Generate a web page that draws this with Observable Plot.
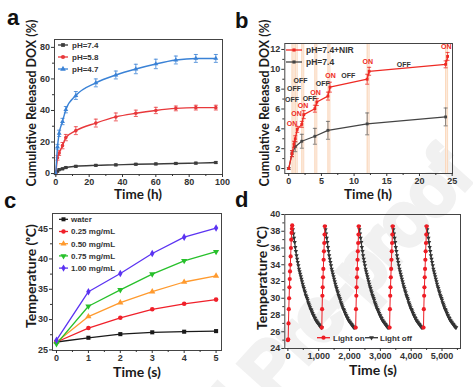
<!DOCTYPE html>
<html><head><meta charset="utf-8">
<script src="https://cdn.jsdelivr.net/npm/d3@7"></script>
<script src="https://cdn.jsdelivr.net/npm/@observablehq/plot@0.6"></script>
<style>
html,body{margin:0;padding:0;background:#fff;}
#fig{position:relative;width:473px;height:387px;overflow:hidden;background:#fff;}
.panel{position:absolute;overflow:hidden;}
</style></head><body><div id="fig"></div>
<script>
// ---------- Panel a: cumulative DOX release at different pH ----------
const timeA   = [0, 1, 2, 4, 6, 12, 24, 36, 48, 60, 72, 84, 96];
const dox74   = [0, 1.5, 2.5, 3.0, 3.8, 4.6, 5.2, 5.5, 5.9, 6.1, 6.4, 6.6, 7.0];
const dox74E  = [0, 0.4, 0.4, 0.5, 0.5, 0.5, 0.5, 0.5, 0.5, 0.5, 0.5, 0.5, 0.5];
const dox58   = [0, 10.0, 13.0, 17.7, 22.8, 27.2, 32.0, 35.9, 38.2, 40.0, 41.3, 41.8, 41.8];
const dox58E  = [0, 1.5, 1.5, 2, 2, 2.5, 2.5, 2.5, 2, 2, 1.5, 1.5, 1.5];
const dox47   = [0, 17.0, 25.5, 33.0, 40.5, 49.5, 57.5, 62.5, 66.3, 69.5, 72.0, 73.0, 73.0];
const dox47E  = [0, 1.5, 2, 2, 2, 2.5, 2.5, 2.5, 3, 3, 2.5, 2.5, 2.5];
const labelsA = ["pH=7.4", "pH=5.8", "pH=4.7"];

// ---------- Panel b: NIR on/off release ----------
const timeNIR = [0, 0.5, 0.8, 1, 1.3, 2, 2.3, 4, 4.3, 6, 6.3, 12, 12.3, 24, 24.3];
const doxNIR  = [0, 1.5, 2.45, 3.0, 3.95, 4.45, 5.43, 6.03, 6.7, 7.3, 8.2, 9.0, 9.8, 10.5, 11.3];
const doxNIRE = [0, 0.3, 0.3, 0.3, 0.3, 0.3, 0.4, 0.35, 0.35, 0.4, 0.5, 0.5, 0.4, 0.35, 0.4];
const timeDark = [0, 0.5, 1, 2, 4, 6, 12, 24];
const doxDark  = [0, 1.5, 2.2, 2.75, 3.25, 3.85, 4.5, 5.2];
const doxDarkE = [0.1, 0.3, 0.5, 0.7, 0.8, 0.9, 1.1, 0.9];
const nirStart = [0.5, 1, 2, 4, 6, 12, 24];
const nirEnd   = [0.8, 1.3, 2.3, 4.3, 6.3, 12.3, 24.3];
const onX  = [0.5, 1.2, 2.2, 4.1, 6.4, 12.1, 24.1];
const onY  = [4.5, 5.5, 6.3, 7.6, 9.3, 10.8, 12.3];
const offX = [0.5, 0.8, 1.8, 3.2, 5.2, 9.1, 17.6];
const offY = [6.9, 8.05, 8.8, 7.0, 8.55, 9.3, 10.5];
const labelsB = ["pH=7.4+NIR", "pH=7.4"];

// ---------- Panel c: photothermal heating ----------
const timeC = [0, 1, 2, 3, 4, 5];
const tWater = [26.3, 27.0, 27.6, 27.9, 28.0, 28.1];
const t025   = [26.3, 28.6, 30.3, 31.7, 32.6, 33.3];
const t050   = [26.3, 30.5, 32.8, 34.6, 36.2, 37.2];
const t075   = [26.0, 32.2, 34.9, 37.5, 39.7, 41.2];
const t100   = [26.6, 34.6, 37.6, 40.9, 43.6, 45.1];
const labelsC = ["water", "0.25 mg/mL", "0.50 mg/mL", "0.75 mg/mL", "1.00 mg/mL"];

// ---------- Panel d: on/off cycles ----------
const cycleStart = [0, 1100, 2200, 3300, 4400];
const heatStep = 10;   // s between heating readings
const coolStep = 20;   // s between cooling readings
const heatFirst = [25.0, 25.1, 27.0, 28.7, 30.0, 31.3, 32.3, 33.2, 34.0, 35.0, 36.0, 37.0, 37.8, 38.3, 38.7];
const heatOther = [26.5, 28.7, 30.3, 31.3, 32.5, 33.5, 34.6, 35.6, 36.6, 37.6, 38.6];
const cooling = [38.6, 38.2, 37.7, 37.2, 36.7, 36.1, 35.6, 35.1, 34.7, 34.3, 33.9, 33.5, 33.2, 32.9,
  32.6, 32.3, 32.0, 31.7, 31.4, 31.2, 30.9, 30.7, 30.4, 30.2, 30.0, 29.8, 29.5, 29.3, 29.1, 28.9,
  28.7, 28.6, 28.4, 28.2, 28.0, 27.9, 27.7, 27.6, 27.4, 27.3, 27.2, 27.1, 27.0, 26.9, 26.8, 26.7,
  26.6, 26.5, 26.5];
const labelsD = ["Light on", "Light off"];
const watermark = "Journal Pre-proof";

// ---------- styling helpers ----------
const TICKF = "'Liberation Sans', Arial, sans-serif";
const TITLEF = "Lato, 'Open Sans', sans-serif";
const fig = document.getElementById("fig");
const capSym = {draw(ctx, size) { const r = Math.sqrt(size / Math.PI); ctx.moveTo(-r, 0); ctx.lineTo(r, 0); }};

// faint watermark behind everything
{
  const wm = d3.create("svg").attr("width", 473).attr("height", 387)
    .style("position", "absolute").style("left", 0).style("top", 0);
  wm.append("text").attr("transform", "translate(474,178) rotate(-48)")
    .attr("text-anchor", "end").attr("font-family", TICKF).attr("font-size", 72)
    .attr("fill", "none").attr("stroke", "#f1f1f1").attr("stroke-width", 7).text(watermark);
  fig.appendChild(wm.node());
}

function place(svg, left, top, w, h) {
  const d = document.createElement("div");
  d.className = "panel";
  Object.assign(d.style, {left: left + "px", top: top + "px", width: w + "px", height: h + "px"});
  d.appendChild(svg); fig.appendChild(d);
}
function axes(xt, xm, yt, ym) {
  const t = {fontSize: 9, fontWeight: "bold", fontFamily: TICKF, label: null};
  return [
    Plot.axisX({...t, ticks: xt, tickSize: 3, tickPadding: 1.5, tickFormat: d => d}),
    Plot.axisX({ticks: xm, tickSize: 2, tickFormat: () => "", label: null}),
    Plot.axisY({...t, ticks: yt, tickSize: 3, tickPadding: 1.5, tickFormat: d => d}),
    Plot.axisY({ticks: ym, tickSize: 2, tickFormat: () => "", label: null})
  ];
}
function errMarks(data, color) {
  const d = data.filter(p => p.e > 0);
  return [
    Plot.ruleX(d, {x: "t", y1: p => p.v - p.e, y2: p => p.v + p.e, stroke: color, strokeWidth: 0.8}),
    Plot.dot(d, {x: "t", y: p => p.v + p.e, symbol: capSym, r: 2, stroke: color, fill: "none", strokeWidth: 0.8}),
    Plot.dot(d, {x: "t", y: p => p.v - p.e, symbol: capSym, r: 2, stroke: color, fill: "none", strokeWidth: 0.8})
  ];
}
function title(svg, txt, x, y, rot, size) {
  d3.select(svg).append("text")
    .attr("transform", `translate(${x},${y})` + (rot ? " rotate(-90)" : ""))
    .attr("text-anchor", "middle").attr("dominant-baseline", rot ? "middle" : "auto")
    .attr("font-family", TITLEF).attr("font-weight", "bold").attr("font-size", size)
    .attr("fill", "#1a1a1a").text(txt);
}
const symMap = {square: d3.symbolSquare, circle: d3.symbolCircle, triangle: d3.symbolTriangle, diamond: d3.symbolDiamond};
function legendItem(svg, x0, x1, tx, y, color, sym, size, rot, label, fs) {
  const g = d3.select(svg).append("g");
  g.append("line").attr("x1", x0).attr("x2", x1).attr("y1", y).attr("y2", y).attr("stroke", color).attr("stroke-width", 1.3);
  g.append("path").attr("d", d3.symbol(symMap[sym], size)())
    .attr("transform", `translate(${(x0 + x1) / 2},${y}) rotate(${rot || 0})`).attr("fill", color);
  g.append("text").attr("x", tx).attr("y", y).attr("dy", "0.35em").attr("text-anchor", "start")
    .attr("font-family", TICKF).attr("font-weight", "bold").attr("font-size", fs).attr("fill", "#333").text(label);
}
const baseStyle = {fontFamily: TICKF, fontWeight: "bold", color: "#333", background: "transparent", overflow: "visible"};

// ---------- Panel a ----------
{
  const mk = (v, e) => timeA.map((t, i) => ({t, v: v[i], e: e[i]}));
  const series = [
    {data: mk(dox74, dox74E), color: "#3c3c3c", symbol: "square"},
    {data: mk(dox58, dox58E), color: "#e8383b", symbol: "circle"},
    {data: mk(dox47, dox47E), color: "#3a82d6", symbol: "triangle"}
  ];
  const marks = [];
  for (const s of series) {
    marks.push(Plot.line(s.data, {x: "t", y: "v", stroke: s.color, strokeWidth: 1.4, curve: "monotone-x"}));
    marks.push(...errMarks(s.data, s.color));
    marks.push(Plot.dot(s.data, {x: "t", y: "v", symbol: s.symbol, fill: s.color, r: 1.8}));
  }
  const svg = Plot.plot({
    width: 236, height: 203, marginLeft: 54, marginRight: 14, marginTop: 39, marginBottom: 29,
    x: {domain: [-0.8, 100]}, y: {domain: [-0.6, 85]}, style: baseStyle,
    marks: [...marks, Plot.frame({stroke: "#444"}), ...axes([0,20,40,60,80,100],[10,30,50,70,90],[0,20,40,60,80],[10,30,50,70])]
  });
  series.forEach((s, i) => legendItem(svg, 58, 68, 72, 45 + i * 12, s.color, s.symbol, 14, 0, labelsA[i], 8));
  title(svg, "Cumulative Released DOX (%)", 33, 103, true, 12.5);
  title(svg, "Time (h)", 138, 199, false, 13.5);
  place(svg, 0, 0, 236, 203);
}

// ---------- Panel b ----------
{
  const nir = timeNIR.map((t, i) => ({t, v: doxNIR[i], e: doxNIRE[i]}));
  const dark = timeDark.map((t, i) => ({t, v: doxDark[i], e: doxDarkE[i]}));
  const bands = nirStart.map((s, i) => ({s, e: nirEnd[i]}));
  const red = "#ee2a24", blk = "#444";
  const svg = Plot.plot({
    width: 237, height: 203, marginLeft: 48.3, marginRight: 21, marginTop: 43, marginBottom: 30,
    x: {domain: [-0.6, 25.05]}, y: {domain: [-0.5, 12.6]}, style: baseStyle,
    marks: [
      Plot.rect(bands, {x1: "s", x2: "e", fill: "#fdeee2"}),
      Plot.ruleX(bands, {x: "s", stroke: "#f9cfae", strokeWidth: 0.8}),
      Plot.ruleX(bands, {x: "e", stroke: "#f9cfae", strokeWidth: 0.8}),
      Plot.line(dark, {x: "t", y: "v", stroke: blk, strokeWidth: 1.2}),
      ...errMarks(dark, "#666"),
      Plot.dot(dark, {x: "t", y: "v", symbol: "square", fill: blk, r: 1.6}),
      Plot.line(nir, {x: "t", y: "v", stroke: red, strokeWidth: 1.3}),
      ...errMarks(nir, red),
      Plot.dot(nir, {x: "t", y: "v", symbol: "square", fill: red, r: 1.6}),
      Plot.text(onX.map((x, i) => ({x, y: onY[i]})), {x: "x", y: "y", text: () => "ON", fill: red, fontSize: 7, fontWeight: "bold"}),
      Plot.text(offX.map((x, i) => ({x, y: offY[i]})), {x: "x", y: "y", text: () => "OFF", fill: "#333", fontSize: 7, fontWeight: "bold"}),
      Plot.frame({stroke: "#444"}),
      ...axes([0,5,10,15,20,25],[2.5,7.5,12.5,17.5,22.5],[0,2,4,6,8,10,12],[1,3,5,7,9,11])
    ]
  });
  legendItem(svg, 50, 66, 70, 50, red, "square", 10, 0, labelsB[0], 8.5);
  legendItem(svg, 50, 66, 70, 62, blk, "square", 10, 0, labelsB[1], 8.5);
  title(svg, "Cumulative Released DOX (%)", 30, 103, true, 12.5);
  title(svg, "Time (h)", 132, 199, false, 13.5);
  place(svg, 236, 0, 237, 203);
}

// ---------- Panel c ----------
{
  const vals = [tWater, t025, t050, t075, t100];
  const styles = [
    {color: "#1a1a1a", symbol: "square", rot: 0},
    {color: "#f0202a", symbol: "circle", rot: 0},
    {color: "#ff9a2e", symbol: "triangle", rot: 0},
    {color: "#27c02b", symbol: "triangle", rot: 180},
    {color: "#5b33f2", symbol: "diamond", rot: 0}
  ];
  const marks = [];
  vals.forEach((v, k) => {
    const data = timeC.map((t, i) => ({t, v: v[i]}));
    const s = styles[k];
    marks.push(Plot.line(data, {x: "t", y: "v", stroke: s.color, strokeWidth: 1.3}));
    marks.push(Plot.dot(data, {x: "t", y: "v", symbol: s.symbol, rotate: s.rot, fill: s.color, r: 2.3}));
  });
  const svg = Plot.plot({
    width: 236, height: 184, marginLeft: 52, marginRight: 15, marginTop: 10, marginBottom: 37,
    x: {domain: [-0.125, 5.17]}, y: {domain: [24.9, 47.5]}, style: baseStyle,
    marks: [...marks, Plot.frame({stroke: "#444"}), ...axes([0,1,2,3,4,5],[0.5,1.5,2.5,3.5,4.5],[25,30,35,40,45],[27.5,32.5,37.5,42.5])]
  });
  styles.forEach((s, i) => legendItem(svg, 59, 68, 71, 16.3 + i * 12.2, s.color, s.symbol, 16, s.rot, labelsC[i], 8));
  title(svg, "Temperature (\u1d52C)", 32, 73, true, 14);
  title(svg, "Time (s)", 137, 174, false, 14);
  place(svg, 0, 203, 236, 184);
}

// ---------- Panel d ----------
{
  const heat = [], cool = [];
  cycleStart.forEach((s, c) => {
    const h = c === 0 ? heatFirst : heatOther;
    h.forEach((v, j) => heat.push({t: s + j * heatStep, v, c}));
    const peak = s + (h.length - 1) * heatStep;
    cooling.forEach((v, k) => cool.push({t: peak + k * coolStep, v, c}));
  });
  const red = "#ee1c24", blk = "#333";
  const svg = Plot.plot({
    width: 237, height: 184, marginLeft: 48.3, marginRight: 13, marginTop: 11, marginBottom: 39,
    x: {domain: [-100, 5600]}, y: {domain: [24, 40]}, style: baseStyle,
    marks: [
      Plot.line(cool, {x: "t", y: "v", z: "c", stroke: blk, strokeWidth: 1.2}),
      Plot.dot(cool, {x: "t", y: "v", symbol: "triangle", rotate: 180, fill: blk, r: 1.6}),
      Plot.line(heat, {x: "t", y: "v", z: "c", stroke: red, strokeWidth: 1}),
      Plot.dot(heat, {x: "t", y: "v", fill: red, r: 2.1}),
      Plot.frame({stroke: "#444"}),
      ...axes([0,1000,2000,3000,4000,5000],[500,1500,2500,3500,4500,5500],[24,26,28,30,32,34,36,38,40],[25,27,29,31,33,35,37,39])
    ]
  });
  legendItem(svg, 81, 94, 97, 134.7, red, "circle", 14, 0, labelsD[0], 8);
  legendItem(svg, 129, 142, 144, 134.7, blk, "triangle", 10, 180, labelsD[1], 8);
  title(svg, "Temperature (\u1d52C)", 27, 75, true, 14);
  title(svg, "Time (s)", 137, 172, false, 14);
  place(svg, 236, 203, 237, 184);
}

// ---------- panel letters ----------
{
  const ov = d3.create("svg").attr("width", 473).attr("height", 387)
    .style("position", "absolute").style("left", 0).style("top", 0).style("pointer-events", "none");
  [["a", 7, 25], ["b", 235, 28], ["c", 4, 208], ["d", 235, 207]].forEach(([t, x, y]) =>
    ov.append("text").attr("x", x).attr("y", y).attr("font-family", TICKF).attr("font-weight", "bold")
      .attr("font-size", 22).attr("fill", "#111").text(t));
  fig.appendChild(ov.node());
}
</script></body></html>
